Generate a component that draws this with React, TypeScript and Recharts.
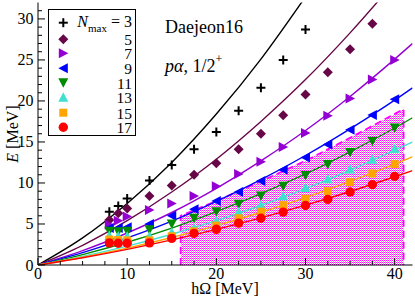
import React from 'react';
import { ComposedChart, XAxis, YAxis, Line, Scatter, Area } from 'recharts';

const FONT = "'Liberation Serif', 'Times New Roman', serif";
const W = 415;
const H = 298;

// ---- data ----
const hOmega = [8, 9, 10, 12.5, 15, 17.5, 20, 22.5, 25, 27.5, 30, 32.5, 35, 37.5, 40];
const e3 = [6.5, 7.2, 8.1, 10.3, 12.2, 14.1, 16.2, 18.8, 21.6, 25.0, 28.7, null, null, null, null];
const e5 = [5.5, 6.3, 6.9, 8.4, 9.7, 11.0, 12.4, 14.1, 16.0, 18.25, 20.8, 23.5, 26.3, 29.4, null];
const e7 = [4.9, 5.4, 5.9, 6.7, 7.5, 8.4, 9.6, 11.1, 12.6, 14.4, 16.1, 18.2, 20.3, 22.6, 25.0];
const e9 = [4.5, 4.5, 4.6, 5.0, 6.0, 6.8, 7.8, 8.9, 10.25, 11.6, 13.1, 14.7, 16.5, 18.3, 20.2];
const e11 = [4.1, 4.05, 4.1, 4.3, 5.0, 5.7, 6.5, 7.4, 8.4, 9.6, 10.9, 12.25, 13.7, 15.1, 16.7];
const e13 = [3.6, 3.55, 3.5, 3.5, 4.0, 4.5, 5.4, 6.5, 7.3, 8.4, 9.45, 10.5, 11.7, 12.9, 14.2];
const e15 = [3.1, 3.05, 3.0, 3.0, 3.5, 4.1, 4.8, 5.7, 6.5, 7.3, 8.1, 9.0, 10.1, 11.15, 12.3];
const e17 = [2.7, 2.65, 2.65, 2.7, 3.25, 3.85, 4.35, 5.1, 5.7, 6.45, 7.25, 8.0, 8.9, 9.8, 10.8];

const fitX = [0, 5, 10, 15, 20, 25, 30, 35, 40, 42];
const fit3 = [0, 3.3, 7.5, 12.5, 18.4, 25.1, 32.7, null, null, null];
const fit5 = [0, 2.4, 5.4, 8.9, 12.9, 17.5, 22.6, 28.3, 34.5, null];
const fit7 = [0, 1.75, 3.9, 6.4, 9.35, 12.7, 16.4, 20.55, 25.1, 27.0];
const fit9 = [0, 1.5, 3.3, 5.35, 7.75, 10.4, 13.35, 16.6, 20.1, 21.6];
const fit11 = [0, 1.27, 2.77, 4.5, 6.5, 8.7, 11.1, 13.8, 16.7, 17.95];
const fit13 = [0, 1.05, 2.3, 3.75, 5.4, 7.25, 9.3, 11.55, 14.0, 15.0];
const fit15 = [0, 0.95, 2.06, 3.35, 4.8, 6.43, 8.22, 10.2, 12.3, 13.2];
const fit17 = [0, 0.89, 1.91, 3.06, 4.34, 5.75, 7.29, 8.96, 10.76, 11.5];

const regionX = [16, 16, 20, 25, 30, 35, 41, 41];
const regionE = [0, 6.0, 7.8, 10.2, 12.7, 15.5, 19.0, 0];

const nmaxLabels = ['3', '5', '7', '9', '11', '13', '15', '17'];
const xTicks = [0, 2.5, 5, 7.5, 10, 12.5, 15, 17.5, 20, 22.5, 25, 27.5, 30, 32.5, 35, 37.5, 40];
const xMajor = [0, 10, 20, 30, 40];
const yTicks = [0, 1, 2, 3, 4, 5, 6, 7, 8, 9, 10, 11, 12, 13, 14, 15, 16, 17, 18, 19, 20, 21, 22, 23, 24, 25, 26, 27, 28, 29, 30, 31];
const yMajor = [0, 5, 10, 15, 20, 25, 30];

// ---- styles ----
type Kind = 'plus' | 'diamond' | 'right' | 'left' | 'down' | 'up' | 'square' | 'circle';
const styles: { kind: Kind; color: string }[] = [
  { kind: 'plus', color: '#000000' },
  { kind: 'diamond', color: '#670748' },
  { kind: 'right', color: '#9400d3' },
  { kind: 'left', color: '#0000ff' },
  { kind: 'down', color: '#008b00' },
  { kind: 'up', color: '#40e0d0' },
  { kind: 'square', color: '#ffa500' },
  { kind: 'circle', color: '#ff0000' },
];
const pointSets = [e3, e5, e7, e9, e11, e13, e15, e17];
const fitSets = [fit3, fit5, fit7, fit9, fit11, fit13, fit15, fit17];

function Marker({ kind, cx, cy, color }: { kind: Kind; cx: number; cy: number; color: string }) {
  if (cx == null || cy == null || isNaN(cx) || isNaN(cy)) return null;
  const p = (pts: number[][]) => pts.map((q) => `${cx + q[0]},${cy + q[1]}`).join(' ');
  switch (kind) {
    case 'plus':
      return (
        <g>
          <line x1={cx - 4.5} x2={cx + 4.5} y1={cy} y2={cy} stroke={color} strokeWidth={2} />
          <line x1={cx} x2={cx} y1={cy - 4.5} y2={cy + 4.5} stroke={color} strokeWidth={2} />
        </g>
      );
    case 'diamond':
      return <polygon points={p([[0, -5], [5, 0], [0, 5], [-5, 0]])} fill={color} />;
    case 'right':
      return <polygon points={p([[-4.5, -5], [5, 0], [-4.5, 5]])} fill={color} />;
    case 'left':
      return <polygon points={p([[4.5, -5], [-5, 0], [4.5, 5]])} fill={color} />;
    case 'down':
      return <polygon points={p([[-5, -4.5], [5, -4.5], [0, 5]])} fill={color} />;
    case 'up':
      return <polygon points={p([[-5, 4.5], [5, 4.5], [0, -5]])} fill={color} />;
    case 'square':
      return <rect x={cx - 4} y={cy - 4} width={8} height={8} fill={color} />;
    default:
      return <circle cx={cx} cy={cy} r={4.7} fill={color} />;
  }
}

const txtStyle = { fontFamily: FONT };

const BottomTick = (props: any) => {
  const { x, y, payload } = props;
  const major = xMajor.includes(payload.value);
  return (
    <g>
      <line x1={x} x2={x} y1={y} y2={y - (major ? 7 : 4)} stroke="#000" strokeWidth={1} />
      {major && (
        <text x={x} y={y + 14} textAnchor="middle" fontSize={16} style={txtStyle} fill="#000">
          {payload.value}
        </text>
      )}
    </g>
  );
};
const TopTick = (props: any) => {
  const { x, y, payload } = props;
  const major = xMajor.includes(payload.value);
  return <line x1={x} x2={x} y1={y} y2={y + (major ? 7 : 4)} stroke="#000" strokeWidth={1} />;
};
const LeftTick = (props: any) => {
  const { x, y, payload } = props;
  const major = yMajor.includes(payload.value);
  return (
    <g>
      <line x1={x} x2={x + (major ? 7 : 4)} y1={y} y2={y} stroke="#000" strokeWidth={1} />
      {major && (
        <text x={x - 4.5} y={y + 5.5} textAnchor="end" fontSize={16} style={txtStyle} fill="#000">
          {payload.value}
        </text>
      )}
    </g>
  );
};
const RightTick = (props: any) => {
  const { x, y, payload } = props;
  const major = yMajor.includes(payload.value);
  return <line x1={x} x2={x - (major ? 7 : 4)} y1={y} y2={y} stroke="#000" strokeWidth={1} />;
};

const legendY = [22.7, 39.3, 53.3, 68.3, 82.7, 97.3, 112.7, 127.3];

export default function App() {
  const regionData = regionX.map((x, i) => ({ x, y: regionE[i] }));
  return (
    <div style={{ position: 'absolute', left: 0, top: 0, width: W, height: H, background: '#fff' }}>
      <ComposedChart width={W} height={H} margin={{ top: 2.5, right: 2.5, bottom: 3, left: 0 }}>
        <defs>
          <pattern id="hatch" width="2" height="2" patternUnits="userSpaceOnUse">
            <rect width="2" height="2" fill="#ffffff" />
            <rect x="0" y="0" width="1" height="1" fill="#ff00ff" />
            <rect x="1" y="1" width="1" height="1" fill="#ff80ff" />
          </pattern>
        </defs>
        <XAxis
          type="number"
          dataKey="x"
          domain={[0, 42]}
          allowDataOverflow
          ticks={xTicks}
          interval={0}
          tickSize={0}
          tickMargin={0}
          tickLine={false}
          tick={(p: any) => <BottomTick {...p} />}
          height={30}
          axisLine={{ stroke: '#000', strokeWidth: 1 }}
        />
        <XAxis
          xAxisId="t"
          orientation="top"
          type="number"
          domain={[0, 42]}
          allowDataOverflow
          ticks={xTicks}
          interval={0}
          tickSize={0}
          tickMargin={0}
          tickLine={false}
          tick={(p: any) => <TopTick {...p} />}
          height={0}
          axisLine={{ stroke: '#000', strokeWidth: 1 }}
        />
        <YAxis
          type="number"
          dataKey="y"
          domain={[0, 32]}
          allowDataOverflow
          ticks={yTicks}
          interval={0}
          tickSize={0}
          tickMargin={0}
          tickLine={false}
          tick={(p: any) => <LeftTick {...p} />}
          width={38}
          axisLine={{ stroke: '#000', strokeWidth: 1 }}
        />
        <YAxis
          yAxisId="r"
          orientation="right"
          type="number"
          domain={[0, 32]}
          allowDataOverflow
          ticks={yTicks}
          interval={0}
          tickSize={0}
          tickMargin={0}
          tickLine={false}
          tick={(p: any) => <RightTick {...p} />}
          width={0}
          axisLine={{ stroke: '#000', strokeWidth: 1 }}
        />
        <Area
          data={regionData}
          dataKey="y"
          type="linear"
          fill="url(#hatch)"
          fillOpacity={1}
          stroke="none"
          isAnimationActive={false}
          dot={false}
          activeDot={false}
        />
        <Line
          data={regionData}
          dataKey="y"
          type="linear"
          stroke="#ff00ff"
          strokeWidth={1.8}
          strokeDasharray="7 4"
          dot={false}
          activeDot={false}
          isAnimationActive={false}
        />
        {fitSets.map((fs, si) => (
          <Line
            key={'fit' + si}
            data={fitX.map((x, i) => ({ x, y: fs[i] })).filter((d) => d.y != null)}
            dataKey="y"
            type="monotone"
            stroke={styles[si].color}
            strokeWidth={1.4}
            dot={false}
            activeDot={false}
            isAnimationActive={false}
          />
        ))}
        {pointSets.map((ps, si) => (
          <Scatter
            key={'pts' + si}
            data={hOmega.map((x, i) => ({ x, y: ps[i] })).filter((d) => d.y != null)}
            dataKey="y"
            isAnimationActive={false}
            shape={(p: any) => <Marker kind={styles[si].kind} cx={p.cx} cy={p.cy} color={styles[si].color} />}
          />
        ))}
      </ComposedChart>
      <svg
        width={W}
        height={H}
        style={{ position: 'absolute', left: 0, top: 0, pointerEvents: 'none', fontFamily: FONT }}
      >
        <text x={225} y={294} textAnchor="middle" fontSize={16} fill="#000" style={txtStyle}>
          hΩ [MeV]
        </text>
        <text
          x={12}
          y={134}
          dy={5.5}
          textAnchor="middle"
          fontSize={16}
          fill="#000"
          style={txtStyle}
          transform="rotate(-90, 12, 134)"
        >
          <tspan fontStyle="italic">E</tspan> [MeV]
        </text>
        <text x={165} y={33} fontSize={18} fill="#000" style={txtStyle}>
          Daejeon16
        </text>
        <text x={165} y={71.5} fontSize={18} fill="#000" style={txtStyle}>
          <tspan fontStyle="italic">pα</tspan>, 1/2
          <tspan fontSize={12} dy={-9}>+</tspan>
        </text>
        <rect x={48.5} y={9.5} width={87} height={126} fill="none" stroke="#000" strokeWidth={1} />
        {nmaxLabels.map((lab, i) => (
          <g key={lab}>
            <Marker kind={styles[i].kind} cx={63.3} cy={legendY[i]} color={styles[i].color} />
            {i === 0 ? (
              <text x={132} y={27} textAnchor="end" fontSize={16} fill="#000" style={txtStyle}>
                <tspan fontStyle="italic">N</tspan>
                <tspan fontSize={11} dy={5}>max</tspan>
                <tspan dy={-5}> = {lab}</tspan>
              </text>
            ) : (
              <text x={132} y={legendY[i] + 5.8} textAnchor="end" fontSize={15.5} fill="#000" style={txtStyle}>
                {lab}
              </text>
            )}
          </g>
        ))}
      </svg>
    </div>
  );
}
